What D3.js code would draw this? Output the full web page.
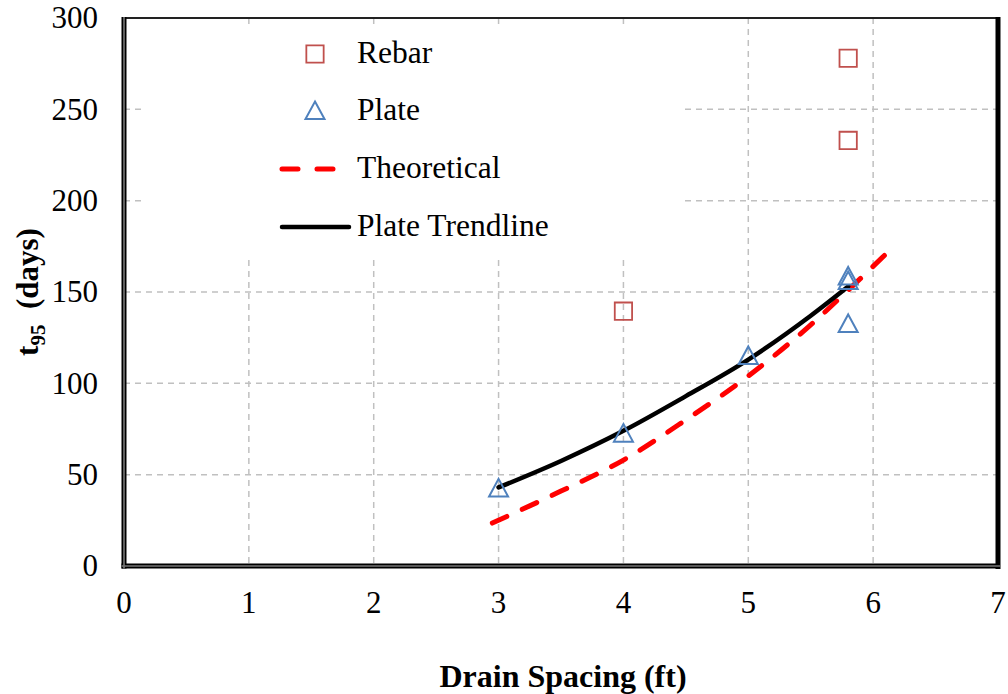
<!DOCTYPE html>
<html lang="en">
<head>
    <meta charset="UTF-8">
    <title>t95 vs Drain Spacing</title>
    <script src="https://d3js.org/d3.v7.min.js"></script>
    <style>
        body{
            margin: 0;
            background: #fff;
        }
        text{
            font-family: "Liberation Serif", "Times New Roman", serif;
        }
    </style>
</head>
<body>
    <div id="chart"></div>

    <script>
        // data
        const xTicks = [0, 1, 2, 3, 4, 5, 6, 7];
        const yTicks = [0, 50, 100, 150, 200, 250, 300];

        const rebar = [[4, 139.5], [5.8, 278], [5.8, 233]];
        const plate = [[3, 42.5], [4, 72.5], [5, 115], [5.8, 158.5], [5.8, 156], [5.8, 132.5]];
        const theoretical = [[2.95, 23.5], [3.5, 41], [4, 58], [4.5, 80], [5, 104], [5.5, 132], [5.8, 151], [6.12, 172]];
        const trendline = [[3, 43], [3.5, 57.5], [4, 74], [4.5, 93], [5, 113], [5.5, 137], [5.8, 153]];

        const legendItems = ["Rebar", "Plate", "Theoretical", "Plate Trendline"];

        const width = 1008;
        const height = 694;
        const margin = {top: 18, right: 10, bottom: 128, left: 124};

        const svg = d3.select("#chart")
            .append("svg")
            .attr("width", width)
            .attr("height", height);

        const x = d3.scaleLinear().domain([0, 7]).range([margin.left, width - margin.right]);
        const y = d3.scaleLinear().domain([0, 300]).range([height - margin.bottom, margin.top]);

        const gridColor = "#c0c0c0";

        // gridlines
        svg.append("g")
            .selectAll("line")
            .data(xTicks.slice(1, -1))
            .enter().append("line")
            .attr("x1", d => x(d)).attr("x2", d => x(d))
            .attr("y1", y(300)).attr("y2", y(0))
            .attr("stroke", gridColor)
            .attr("stroke-width", 1.5)
            .attr("stroke-dasharray", "6,5");

        svg.append("g")
            .selectAll("line")
            .data(yTicks.slice(1, -1))
            .enter().append("line")
            .attr("x1", x(0)).attr("x2", x(7))
            .attr("y1", d => y(d)).attr("y2", d => y(d))
            .attr("stroke", gridColor)
            .attr("stroke-width", 1.5)
            .attr("stroke-dasharray", "6,5");

        // white legend box hides the grid behind it
        svg.append("rect")
            .attr("x", 145).attr("y", 24)
            .attr("width", 540).attr("height", 234)
            .attr("fill", "#fff");

        // tick labels
        svg.append("g")
            .selectAll("text")
            .data(yTicks)
            .enter().append("text")
            .attr("x", 98)
            .attr("y", d => y(d))
            .attr("dy", "0.33em")
            .attr("text-anchor", "end")
            .style("font-size", "31px")
            .text(d => d);

        svg.append("g")
            .selectAll("text")
            .data(xTicks)
            .enter().append("text")
            .attr("x", d => x(d))
            .attr("y", 613)
            .attr("text-anchor", "middle")
            .style("font-size", "31px")
            .text(d => d);

        // theoretical curve
        const line = d3.line()
            .x(d => x(d[0]))
            .y(d => y(d[1]))
            .curve(d3.curveMonotoneX);

        svg.append("path")
            .datum(theoretical)
            .attr("d", line)
            .attr("fill", "none")
            .attr("stroke", "#ff0000")
            .attr("stroke-width", 5)
            .attr("stroke-linecap", "round")
            .attr("stroke-dasharray", "16,17");

        // plate trendline
        svg.append("path")
            .datum(trendline)
            .attr("d", line)
            .attr("fill", "none")
            .attr("stroke", "#000")
            .attr("stroke-width", 4.5)
            .attr("stroke-linecap", "round");

        // markers
        const square = d3.symbol().type(d3.symbolSquare).size(300);
        const triangle = d => {
            const s = 9.5;
            return `M0,${-s}L${s},${s * 0.85}L${-s},${s * 0.85}Z`;
        };

        svg.append("g")
            .selectAll("path")
            .data(rebar)
            .enter().append("path")
            .attr("transform", d => `translate(${x(d[0])},${y(d[1])})`)
            .attr("d", square)
            .attr("fill", "none")
            .attr("stroke", "#c0504d")
            .attr("stroke-width", 1.8);

        svg.append("g")
            .selectAll("path")
            .data(plate)
            .enter().append("path")
            .attr("transform", d => `translate(${x(d[0])},${y(d[1])})`)
            .attr("d", triangle)
            .attr("fill", "none")
            .attr("stroke", "#4f81bd")
            .attr("stroke-width", 2);

        // frame: thin top, heavy right, double-ruled left and bottom
        svg.append("line")
            .attr("x1", x(0)).attr("x2", x(7))
            .attr("y1", y(300)).attr("y2", y(300))
            .attr("stroke", "#222").attr("stroke-width", 2);
        svg.append("line")
            .attr("x1", x(7)).attr("x2", x(7))
            .attr("y1", y(300) - 1).attr("y2", y(0) + 3)
            .attr("stroke", "#000").attr("stroke-width", 5);

        const heavy = [
            [x(0), y(300) - 1, x(0), y(0) + 2.5],
            [x(0) - 2.5, y(0), x(7) + 2, y(0)]
        ];
        [["#000", 5], ["#777", 1.6]].forEach(([c, w]) => {
            svg.append("g")
                .selectAll("line")
                .data(heavy)
                .enter().append("line")
                .attr("x1", d => d[0]).attr("y1", d => d[1])
                .attr("x2", d => d[2]).attr("y2", d => d[3])
                .attr("stroke", c).attr("stroke-width", w);
        });

        // legend
        const legend = svg.append("g");
        const rowY = [54, 111, 169, 227];

        legend.append("path")
            .attr("transform", `translate(315,${rowY[0]})`)
            .attr("d", square)
            .attr("fill", "none")
            .attr("stroke", "#c0504d")
            .attr("stroke-width", 1.8);

        legend.append("path")
            .attr("transform", `translate(315,${rowY[1]})`)
            .attr("d", triangle)
            .attr("fill", "none")
            .attr("stroke", "#4f81bd")
            .attr("stroke-width", 2);

        legend.append("line")
            .attr("x1", 282).attr("x2", 334)
            .attr("y1", rowY[2]).attr("y2", rowY[2])
            .attr("stroke", "#ff0000")
            .attr("stroke-width", 5)
            .attr("stroke-linecap", "round")
            .attr("stroke-dasharray", "16,19");

        legend.append("line")
            .attr("x1", 282).attr("x2", 349)
            .attr("y1", rowY[3]).attr("y2", rowY[3])
            .attr("stroke", "#000")
            .attr("stroke-width", 4.5)
            .attr("stroke-linecap", "round");

        legend.selectAll("text.item")
            .data(legendItems)
            .enter().append("text")
            .attr("class", "item")
            .attr("x", 357)
            .attr("y", (d, i) => rowY[i])
            .attr("dy", "0.3em")
            .style("font-size", "31.5px")
            .text(d => d);

        // axis titles
        svg.append("text")
            .attr("x", 563)
            .attr("y", 687)
            .attr("text-anchor", "middle")
            .style("font-size", "32px")
            .style("font-weight", "bold")
            .text("Drain Spacing (ft)");

        const yTitle = svg.append("text")
            .attr("transform", "translate(38,292) rotate(-90)")
            .attr("text-anchor", "middle")
            .style("font-size", "31px")
            .style("font-weight", "bold");
        yTitle.append("tspan").text("t");
        yTitle.append("tspan").attr("dy", 7).style("font-size", "21px").text("95");
        yTitle.append("tspan").attr("dy", -7).text("\u00a0 (days)");
    </script>
</body>
</html>
